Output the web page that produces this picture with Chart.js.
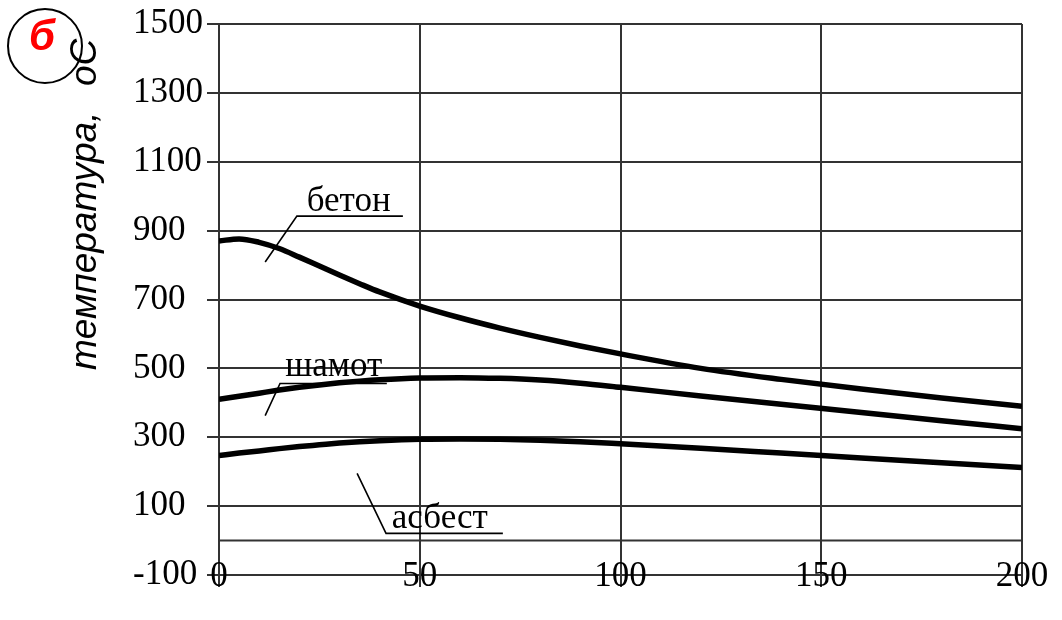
<!DOCTYPE html>
<html><head><meta charset="utf-8">
<script src="https://cdn.jsdelivr.net/npm/chart.js@4/dist/chart.umd.min.js"></script>
<style>html,body{margin:0;padding:0;background:#fff;}canvas{display:block;}</style>
</head><body>
<canvas id="c" width="1062" height="620"></canvas>
<script>
const distance = [0,5,10,15,20,25,30,35,40,50,60,70,80,90,100,120,140,160,180,200];
const beton  = [870,876,866,848,823,797,771,746,722,681,647,617,590,565,542,500,468,440,414,390];
const shamot = [410,419,428,437,445,452,458,463,467,472,473,471,466,457,445,420,396,372,348,325];
const asbest = [247,254,260,267,273,278,283,287,290,294,295,294,291,287,281,268,254,240,226,212];
const xTicks = [0,50,100,150,200];
const yTicks = [-100,100,300,500,700,900,1100,1300,1500];
const zeroLine = [0,0];
const zeroLineX = [0,200];
const yTitle = 'температура,';
const yUnit = 'оС';
const panelLetter = 'б';
// labels: text, text anchor (x, baseline y), underline y, underline x range, leader end
const labels = [
  {text:'бетон',  tx:32.3, ty:956, uy:942, ux0:19.4, ux1:45.8, lx:11.5, ly:809},
  {text:'шамот',  tx:28.6, ty:479, uy:456, ux0:15.2, ux1:41.8, lx:11.5, ly:363},
  {text:'асбест', tx:55.0, ty:36,  uy:21,  ux0:41.6, ux1:70.7, lx:34.4, ly:195}
];

const mk = (arr) => distance.map((x,i)=>({x:x,y:arr[i]}));
const curveStyle = {borderColor:'#000', borderWidth:5.5, pointRadius:0, cubicInterpolationMode:'monotone', fill:false};

const annot = {
  id:'annot',
  afterDatasetsDraw(chart){
    const ctx = chart.ctx, xs = chart.scales.x, ys = chart.scales.y;
    ctx.save();
    ctx.fillStyle = '#000'; ctx.strokeStyle = '#000'; ctx.lineWidth = 1.6;
    ctx.font = '35px "Liberation Serif"';
    ctx.textAlign = 'center'; ctx.textBaseline = 'alphabetic';
    labels.forEach(l=>{
      ctx.fillText(l.text, xs.getPixelForValue(l.tx), ys.getPixelForValue(l.ty));
      ctx.beginPath();
      ctx.moveTo(xs.getPixelForValue(l.ux1), ys.getPixelForValue(l.uy));
      ctx.lineTo(xs.getPixelForValue(l.ux0), ys.getPixelForValue(l.uy));
      ctx.lineTo(xs.getPixelForValue(l.lx), ys.getPixelForValue(l.ly));
      ctx.stroke();
    });
    // x tick labels, drawn over the bottom line as in the original
    ctx.font = '35px "Liberation Serif"';
    ctx.textAlign = 'center'; ctx.textBaseline = 'middle';
    const yb = ys.getPixelForValue(yTicks[0]) + 2;
    xTicks.forEach(v=>{ ctx.fillText(String(v), xs.getPixelForValue(v), yb); });
    ctx.restore();
  },
  afterDraw(chart){
    const ctx = chart.ctx;
    ctx.save();
    ctx.fillStyle = '#000';
    ctx.translate(96, 370);
    ctx.rotate(-Math.PI/2);
    ctx.font = 'italic 37px "Liberation Sans"';
    ctx.textAlign = 'left'; ctx.textBaseline = 'alphabetic';
    ctx.fillText(yTitle, 0, 0);
    ctx.fillText(yUnit, 284, 0);
    ctx.restore();
    ctx.save();
    ctx.beginPath();
    ctx.arc(45, 46, 37, 0, Math.PI*2);
    ctx.lineWidth = 2; ctx.strokeStyle = '#000'; ctx.stroke();
    ctx.fillStyle = '#ff0000';
    ctx.font = 'italic bold 42px "Liberation Sans"';
    ctx.textAlign = 'center'; ctx.textBaseline = 'alphabetic';
    ctx.fillText(panelLetter, 42, 50);
    ctx.restore();
  }
};

new Chart(document.getElementById('c'), {
  type:'line',
  data:{datasets:[
    {data:zeroLineX.map((x,i)=>({x:x,y:zeroLine[i]})), borderColor:'#333', borderWidth:2, pointRadius:0, fill:false},
    Object.assign({label:'бетон', data:mk(beton)}, curveStyle),
    Object.assign({label:'шамот', data:mk(shamot)}, curveStyle),
    Object.assign({label:'асбест', data:mk(asbest)}, curveStyle)
  ]},
  options:{
    responsive:false, animation:false,
    layout:{padding:{top:22,right:40,bottom:0,left:133}},
    plugins:{legend:{display:false}, tooltip:{enabled:false}},
    scales:{
      x:{type:'linear', min:0, max:200,
        afterBuildTicks:(s)=>{s.ticks = xTicks.map(v=>({value:v}));},
        afterFit:(s)=>{s.height = 45;},
        ticks:{display:false},
        grid:{color:'#333', lineWidth:2, tickLength:12, drawTicks:true},
        border:{display:true, color:'#333', width:2}
      },
      y:{type:'linear', min:-100, max:1500,
        afterBuildTicks:(s)=>{s.ticks = yTicks.map(v=>({value:v}));},
        afterFit:(s)=>{s.width = 86;},
        ticks:{font:{family:'Liberation Serif', size:35}, color:'#000', padding:3, autoSkip:false,
          crossAlign:'far', callback:(v)=>String(v)},
        grid:{color:'#333', lineWidth:2, tickLength:12, drawTicks:true},
        border:{display:true, color:'#333', width:2}
      }
    }
  },
  plugins:[annot]
});
</script>
</body></html>
